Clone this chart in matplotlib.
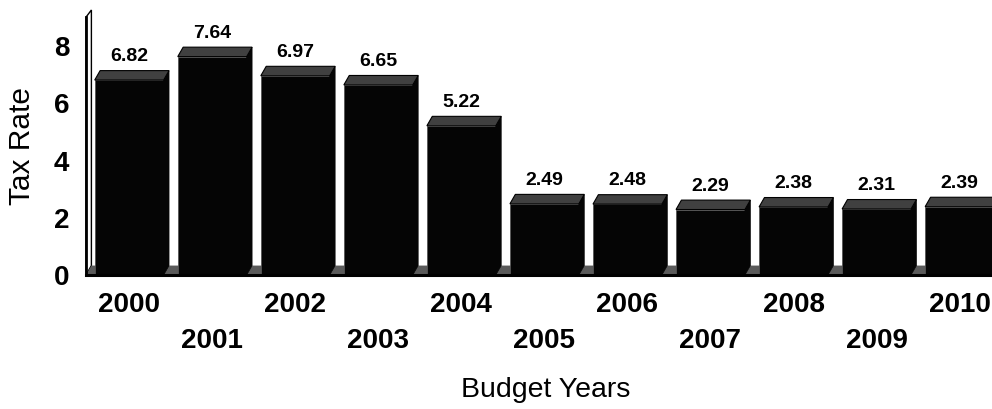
import numpy as np
import matplotlib
matplotlib.use("Agg")
import matplotlib.pyplot as plt
from matplotlib.patches import Polygon

plt.rcParams['font.family'] = ['Liberation Sans', 'DejaVu Sans']

# data
years = ['2000', '2001', '2002', '2003', '2004', '2005', '2006', '2007', '2008', '2009', '2010']
rates = [6.82, 7.64, 6.97, 6.65, 5.22, 2.49, 2.48, 2.29, 2.38, 2.31, 2.39]
yticks = [0, 2, 4, 6, 8]

# 3d look (data units)
front_w = 0.83
dx = 0.065
dy = 0.33
top_col = '#404040'
floor_col = '#5a5a5a'

fig = plt.figure(figsize=(9.92, 4.09), dpi=100)
ax = fig.add_axes([86/992, (409-275)/409, (992-86)/992, (275-10)/409])
xmin, xmax = -0.52, 10.39
ymax = 9.27
ax.set_xlim(xmin, xmax)
ax.set_ylim(0, ymax)
for s in ax.spines.values():
    s.set_visible(False)

# wall
wall = Polygon([(xmin, 0), (xmin, ymax-0.25), (xmin+dx, ymax), (xmin+dx, dy)],
               closed=True, facecolor='white', edgecolor='black', lw=1, clip_on=False, zorder=1)
ax.add_patch(wall)
ax.plot([xmin, xmin], [0, ymax-0.25], color='black', lw=2, clip_on=False, zorder=2)

# floor
floor = Polygon([(xmin, 0), (xmin+dx, dy), (xmax+1, dy), (xmax+1, 0)],
                closed=True, facecolor=floor_col, edgecolor='none', clip_on=False, zorder=1)
ax.add_patch(floor)

x = np.arange(len(years))
lefts = x - front_w/2
ax.bar(lefts, rates, width=front_w, align='edge', color='#050505',
       edgecolor='#555555', lw=0.6, zorder=3, clip_on=False)
for x0, v in zip(lefts, rates):
    x1 = x0 + front_w
    side = Polygon([(x1, 0), (x1+dx, dy), (x1+dx, v+dy), (x1, v)],
                   closed=True, facecolor='#050505', edgecolor='#050505', lw=0.5, zorder=3, clip_on=False)
    ax.add_patch(side)
    top = Polygon([(x0, v), (x0+dx, v+dy), (x1+dx, v+dy), (x1, v)],
                  closed=True, facecolor=top_col, edgecolor='black', lw=0.8, zorder=4, clip_on=False)
    ax.add_patch(top)
    ax.annotate(f'{v:.2f}', (x0 + front_w/2, v + dy), xytext=(0, 4), textcoords='offset points',
                ha='center', va='bottom', fontsize=14, fontweight='bold', zorder=5)

ax.plot([xmin, xmax+1], [0, 0], color='black', lw=2.2, clip_on=False, zorder=5)

ax.set_yticks(yticks)
ax.set_yticklabels([str(t) for t in yticks], fontsize=20, fontweight='bold')
ax.tick_params(axis='y', length=0, pad=12)
ax.set_xticks(x)
ax.set_xticklabels(years, fontsize=20, fontweight='bold')
ax.tick_params(axis='x', length=0)
for i, t in enumerate(ax.xaxis.get_major_ticks()):
    t.set_pad(12 if i % 2 == 0 else 38)

fig.text(22/992, 1 - 146/409, 'Tax Rate', rotation=90, fontsize=21.5, ha='center', va='center')
fig.text(546/992, 1 - 390/409, 'Budget Years', fontsize=20.5, ha='center', va='center')

fig.savefig('out.png', dpi=100)
